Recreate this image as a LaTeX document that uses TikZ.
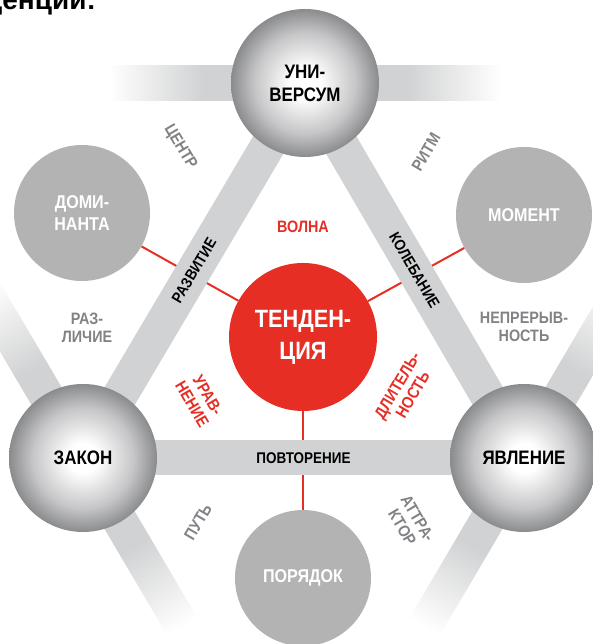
\documentclass[tikz,border=0pt]{standalone}
\usepackage{fontspec}
\setmainfont{Liberation Sans}
\newfontfamily\condfont{Liberation Sans}[FakeStretch=0.87]
\usetikzlibrary{shapes,arrows,positioning,fit,calc}
\definecolor{tendred}{RGB}{230,46,36}
\definecolor{bargray}{RGB}{209,210,211}
\definecolor{discgray}{RGB}{179,179,179}
\definecolor{notegray}{RGB}{128,130,133}
\definecolor{sphedge}{RGB}{138,139,141}
\definecolor{sphmid}{RGB}{198,198,200}
\pgfdeclarehorizontalshading{barfade}{100bp}{color(0bp)=(white); color(25bp)=(white); color(37bp)=(bargray); color(63bp)=(bargray); color(75bp)=(white); color(100bp)=(white)}
\pgfdeclareradialshading{spheregrad}{\pgfpoint{0bp}{0bp}}{color(0bp)=(white); color(5bp)=(white); color(17bp)=(sphmid); color(25bp)=(sphedge); color(50bp)=(sphedge)}
\pgfdeclarelayer{background}
\pgfsetlayers{background,main}
\tikzset{
  spherenode/.style={circle, shading=spheregrad, minimum size=148pt, inner sep=0pt,
    align=center, font={\condfont\bfseries\fontsize{19.5}{23}\selectfont}},
  discnode/.style={circle, fill=discgray, minimum size=136pt, inner sep=0pt,
    align=center, text=white, font={\condfont\bfseries\fontsize{18.5}{22}\selectfont}},
  tendnode/.style={circle, fill=tendred, minimum size=148pt, inner sep=0pt,
    align=center, text=white, font={\condfont\bfseries\fontsize{25}{32}\selectfont}},
  notelabel/.style={align=center, text=notegray, font={\condfont\bfseries\fontsize{16.5}{18}\selectfont}},
  redlabel/.style={align=center, text=tendred, font={\condfont\bfseries\fontsize{16.5}{18}\selectfont}},
  barlabel/.style={font={\condfont\bfseries\fontsize{15.5}{18}\selectfont}},
  trianglebar/.style={draw=bargray, line width=35pt},
  tendline/.style={draw=tendred, line width=2pt}
}

\begin{document}
\begin{tikzpicture}[x=1pt,y=1pt]
  \useasboundingbox (0,0) rectangle (592,644);

  % title, cut at the top of the page
  \node[anchor=base east, inner sep=0pt, font={\bfseries\fontsize{28}{30}\selectfont}] (title) at (96,634) {тенденции:};

  % the three spheres
  \node[spherenode] (univ) at (305,561) {УНИ-\\ВЕРСУМ};
  \node[spherenode] (law) at (83,186) {ЗАКОН};
  \node[spherenode] (phen) at (524,186) {ЯВЛЕНИЕ};

  % grey discs and the red centre
  \node[discnode] (domin) at (82,431) {ДОМИ-\\НАНТА};
  \node[discnode] (moment) at (524,429) {МОМЕНТ};
  \node[discnode] (order) at (303,66) {ПОРЯДОК};
  \node[tendnode] (tend) at (303,307) {ТЕНДЕН-\\ЦИЯ};

  \begin{pgfonlayer}{background}
    % fading bars through the spheres
    \foreach \nd/\ang in {univ/0, law/-59.5, phen/59.5}{
      \begin{scope}[transform canvas={shift={(\nd.center)}, rotate=\ang}]
        \shade[shading=barfade] (-196,-17.5) rectangle (196,17.5);
      \end{scope}
    }
    % red spokes
    \draw[tendline] (domin) -- (tend);
    \draw[tendline] (moment) -- (tend);
    \draw[tendline] (order) -- (tend);
    % triangle
    \draw[trianglebar] (univ.center) -- (law.center);
    \draw[trianglebar] (univ.center) -- (phen.center);
    \draw[trianglebar] (law.center) -- (phen.center);
  \end{pgfonlayer}

  % labels on the triangle
  \path (univ) -- (law) node[midway, sloped, barlabel] (develop) {РАЗВИТИЕ};
  \path (univ) -- (phen) node[midway, sloped, barlabel] (swing) {КОЛЕБАНИЕ};
  \path (law) -- (phen) node[midway, barlabel] (repeat) {ПОВТОРЕНИЕ};

  % grey notes
  \node[notelabel, rotate=-59.5] (centre) at (180,497) {ЦЕНТР};
  \node[notelabel, rotate=59.5] (rhythm) at (426,492) {РИТМ};
  \node[notelabel] (differ) at (87,316) {РАЗ-\\ЛИЧИЕ};
  \node[notelabel] (contin) at (524,317) {НЕПРЕРЫВ-\\НОСТЬ};
  \node[notelabel, rotate=59.5] (path) at (198,122) {ПУТЬ};
  \node[notelabel, rotate=-59.5] (attract) at (410,121) {АТТРА-\\КТОР};

  % red notes
  \node[redlabel] (wave) at (303,417) {ВОЛНА};
  \node[redlabel, rotate=-59.5] (equat) at (200,244) {УРАВ-\\НЕНИЕ};
  \node[redlabel, rotate=59.5] (durat) at (405,254) {ДЛИТЕЛЬ-\\НОСТЬ};
\end{tikzpicture}
\end{document}
